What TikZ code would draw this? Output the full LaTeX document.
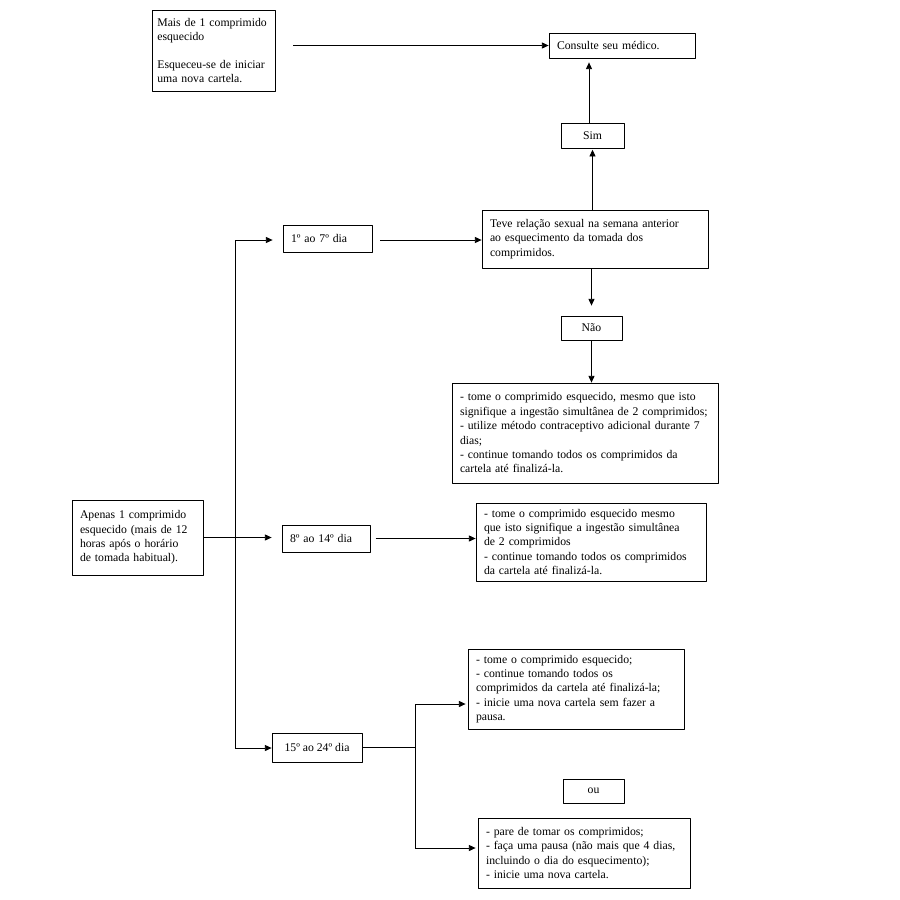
\documentclass[tikz,border=0pt]{standalone}
\usepackage{fontspec}
\setmainfont{Liberation Serif}
\usetikzlibrary{arrows.meta}

\begin{document}
\begin{tikzpicture}[x=0.75pt,y=-0.75pt,line join=round,
  box/.style={draw,line width=0.6pt,inner xsep=6pt,inner ysep=2pt,align=left,font=\fontsize{8.8}{10.8}\selectfont},
  cbox/.style={box,align=center},
  arr/.style={line width=0.6pt,-{Triangle[length=5pt,width=4.5pt]}},
  ln/.style={line width=0.6pt}]
  \useasboundingbox (0,0) rectangle (900,900);
  % boxes of the flow chart, placed at their centres (pixel grid of the page)
  \node[box,inner xsep=4pt,text width=84.25pt,minimum height=60.75pt] (mais) at (213.5,50.5) {Mais de 1 comprimido\\esquecido\\[10pt]Esqueceu-se de iniciar\\uma nova cartela.};
  \node[box,text width=97.5pt,minimum height=18.75pt] (medico) at (622,45.5) {Consulte seu médico.};
  \node[cbox,minimum width=47.25pt,minimum height=18.75pt] (sim) at (592.5,135.5) {Sim};
  \node[box,text width=157.5pt,minimum height=43.5pt] (teve) at (595,239) {Teve relação sexual na semana anterior\\ao esquecimento da tomada dos\\comprimidos.};
  \node[box,text width=54.75pt,minimum height=20.25pt] (dia1) at (327.5,238.5) {1º ao 7º dia};
  \node[cbox,minimum width=45.75pt,minimum height=18pt] (nao) at (591.5,328) {Não};
  \node[box,text width=187.5pt,minimum height=75pt] (tomeA) at (585,433) {- tome o comprimido esquecido, mesmo que isto\\signifique a ingestão simultânea de 2 comprimidos;\\- utilize método contraceptivo adicional durante 7\\dias;\\- continue tomando todos os comprimidos da\\cartela até finalizá-la.};
  \node[box,text width=86.25pt,minimum height=56.25pt] (apenas) at (137.5,537.5) {Apenas 1 comprimido\\esquecido (mais de 12\\horas após o horário\\de tomada habitual).};
  \node[box,text width=54pt,minimum height=20.25pt] (dia8) at (326,538.5) {8º ao 14º dia};
  \node[box,text width=160.5pt,minimum height=58.5pt] (tomeB) at (591,542) {- tome o comprimido esquecido mesmo\\que isto signifique a ingestão simultânea\\de 2 comprimidos\\- continue tomando todos os comprimidos\\da cartela até finalizá-la.};
  \node[cbox,minimum width=67.5pt,minimum height=21.75pt] (dia15) at (317,747.5) {15º ao 24º dia};
  \node[box,text width=150pt,minimum height=60pt] (tomeC) at (576,689) {- tome o comprimido esquecido;\\- continue tomando todos os\\comprimidos da cartela até finalizá-la;\\- inicie uma nova cartela sem fazer a\\pausa.};
  \node[cbox,minimum width=45.75pt,minimum height=18pt] (ou) at (593.5,791) {ou};
  \node[box,text width=147pt,minimum height=52.5pt] (tomeD) at (584,853) {- pare de tomar os comprimidos;\\- faça uma pausa (não mais que 4 dias,\\incluindo o dia do esquecimento);\\- inicie uma nova cartela.};
  % free ends of the branching lines
  \coordinate (tr1) at (235,240);
  \coordinate (tr3) at (235,748);
  \coordinate (br1) at (415,704);
  \coordinate (br2) at (415,848);
  \draw[arr,shorten <=13.5pt] (mais.east |- medico.west) -- (medico.west);
  \draw[arr,shorten >=3pt] (sim.north -| 589,0) -- (medico.south -| 589,0);
  \draw[arr,shorten >=1pt] (teve.north -| sim.south) -- (sim.south);
  \draw[arr,shorten >=7.5pt] (teve.south -| nao.north) -- (nao.north);
  \draw[arr] (nao.south) -- (nao.south |- tomeA.north);
  \draw[arr,shorten <=6pt] (dia1.east |- tr1) -- (tr1 -| teve.west);
  \draw[ln] (tr1) -- (tr3);
  \draw[arr,shorten >=7.5pt] (tr1) -- (tr1 -| dia1.west);
  \draw[arr] (tr3) -- (tr3 -| dia15.west);
  \draw[arr,shorten >=7.5pt] (apenas.east) -- (apenas.east -| dia8.west);
  \draw[arr,shorten <=4pt] (dia8.east) -- (dia8.east -| tomeB.west);
  \draw[ln] (dia15.east) -- (dia15.east -| br1);
  \draw[ln] (br1) -- (br2);
  \draw[arr,shorten >=1.5pt] (br1) -- (br1 -| tomeC.west);
  \draw[arr,shorten >=1.5pt] (br2) -- (br2 -| tomeD.west);
\end{tikzpicture}
\end{document}
